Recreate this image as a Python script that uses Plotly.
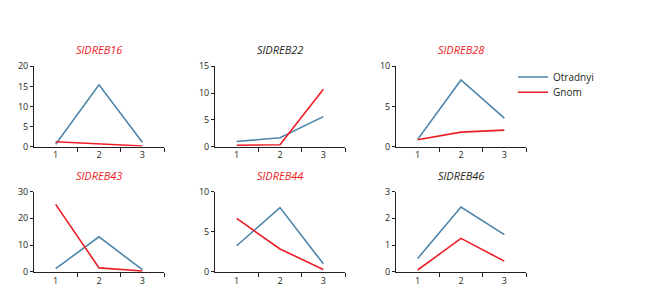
import plotly.graph_objects as go

titles = ["SlDREB16", "SlDREB22", "SlDREB28", "SlDREB43", "SlDREB44", "SlDREB46"]
title_colors = ["#ee1d25", "#231f20", "#ee1d25", "#ee1d25", "#ee1d25", "#231f20"]
x_vals = [1, 2, 3]
otradnyi = [
    [0.6, 15.4, 1.1],
    [0.95, 1.65, 5.6],
    [0.9, 8.3, 3.55],
    [1.2, 13.1, 0.8],
    [3.25, 8.0, 1.0],
    [0.5, 2.42, 1.39],
]
gnom = [
    [1.2, 0.6, 0.15],
    [0.25, 0.35, 10.7],
    [0.85, 1.8, 2.05],
    [25.2, 1.5, 0.35],
    [6.65, 2.85, 0.3],
    [0.07, 1.25, 0.4],
]
y_max = [20, 15, 10, 30, 10, 3]
y_dtick = [5, 5, 5, 10, 5, 1]

W, H = 653, 297
col_left = [34, 215, 396]
panel_w = 130
row_top = [62, 193]
panel_h = 84

blue = "#4d84aa"
red = "#ee1d25"
font = "Open Sans"

fig = go.Figure()
annotations = []
for i in range(6):
    r, c = divmod(i, 3)
    n = i + 1
    xa = "x" if n == 1 else f"x{n}"
    ya = "y" if n == 1 else f"y{n}"
    fig.add_trace(go.Scatter(x=x_vals, y=otradnyi[i], mode="lines", name="Otradnyi",
                             line=dict(color=blue, width=1.6), xaxis=xa, yaxis=ya,
                             showlegend=(i == 0), legend="legend"))
    fig.add_trace(go.Scatter(x=x_vals, y=gnom[i], mode="lines", name="Gnom",
                             line=dict(color=red, width=1.6), xaxis=xa, yaxis=ya,
                             showlegend=(i == 0), legend="legend2"))
    x0 = col_left[c] / W
    x1 = (col_left[c] + panel_w) / W
    y1 = 1 - row_top[r] / H
    y0 = 1 - (row_top[r] + panel_h) / H
    fig.layout[f"xaxis{'' if n == 1 else n}"] = dict(
        domain=[x0, x1], anchor=ya, range=[0.5, 3.5], tickvals=x_vals,
        ticktext=[str(v) for v in x_vals], ticks="", showline=True, linecolor="#231f20",
        linewidth=1, showgrid=False, zeroline=False,
        tickfont=dict(family=font, size=9, color="#231f20"),
        minor=dict(tickvals=[1.5, 2.5, 3.5], ticks="outside", ticklen=4,
                   tickcolor="#231f20", tickwidth=1, showgrid=False),
    )
    fig.layout[f"yaxis{'' if n == 1 else n}"] = dict(
        domain=[y0, y1], anchor=xa, range=[0, y_max[i]], dtick=y_dtick[i],
        ticks="outside", ticklen=3, tickcolor="#231f20", showline=True,
        linecolor="#231f20", linewidth=1, showgrid=False, zeroline=False,
        tickfont=dict(family=font, size=9, color="#231f20"),
    )
    annotations.append(dict(
        text=f"<i>{titles[i]}</i>", x=(x0 + x1) / 2, y=y1, xref="paper", yref="paper",
        xanchor="center", yanchor="bottom", yshift=7, showarrow=False,
        font=dict(family=font, size=11, color=title_colors[i]),
    ))

legend_common = dict(xanchor="left", yanchor="top",
                     font=dict(family=font, size=10, color="#231f20"),
                     itemwidth=30, bgcolor="rgba(0,0,0,0)")
fig.update_layout(
    width=W, height=H, margin=dict(l=0, r=0, t=0, b=0),
    paper_bgcolor="white", plot_bgcolor="white",
    annotations=annotations,
    legend=dict(x=513 / W, y=1 - 58 / H, **legend_common),
    legend2=dict(x=513 / W, y=1 - 74 / H, **legend_common),
    showlegend=True,
)
fig.write_html("out.html")
